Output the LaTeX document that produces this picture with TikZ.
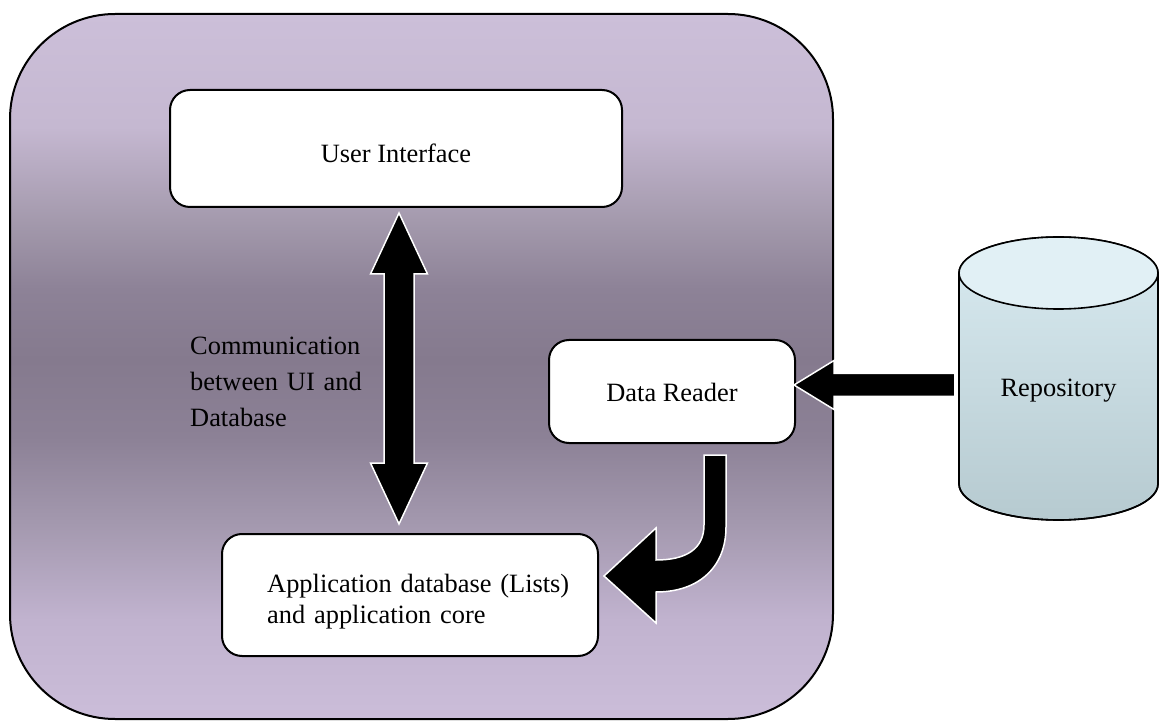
\documentclass[tikz,border=0pt]{standalone}
\usepackage{fontspec}
\setmainfont{Liberation Serif}
\usetikzlibrary{calc}
\definecolor{m0}{HTML}{CCBFD9}
\definecolor{m1}{HTML}{C5B8D1}
\definecolor{m2}{HTML}{A298AB}
\definecolor{m3}{HTML}{8D8297}
\definecolor{m4}{HTML}{857A8E}
\definecolor{m5}{HTML}{8C8196}
\definecolor{m6}{HTML}{A398AE}
\definecolor{m7}{HTML}{C1B3CF}
\definecolor{m8}{HTML}{CBBDD9}
\definecolor{cyltop}{HTML}{E1F0F5}
\definecolor{cylbodytop}{HTML}{D9EBF1}
\definecolor{cylbodybot}{HTML}{B6CAD0}
\pgfdeclareverticalshading{mainshade}{100bp}{color(0bp)=(m8); color(25bp)=(m8); color(32bp)=(m7); color(39bp)=(m6); color(45bp)=(m5); color(50.5bp)=(m4); color(55.5bp)=(m3); color(60bp)=(m2); color(67bp)=(m1); color(75bp)=(m0); color(100bp)=(m0)}
\tikzset{
  panel/.style={draw=black, line width=2pt, rounded corners=105pt, shading=mainshade, inner sep=0pt},
  txt/.style={font=\fontsize{26.4}{31}\selectfont},
  box/.style={txt, draw=black, line width=2pt, fill=white, rounded corners=20pt, inner sep=0pt},
  lbl/.style={font=\fontsize{26.4}{36}\selectfont},
  fatarrow/.style={fill=black, draw=white, line width=1.5pt, line join=miter},
  cyl/.style={draw=black, line width=1.6pt}
}
\begin{document}
\begin{tikzpicture}[x=1pt,y=1pt]
\useasboundingbox (0,0) rectangle (1159,721);
% outer panel
\node[panel, minimum width=823pt, minimum height=705pt] (main) at (421.5,354.5) {};
% boxes
\node[box, minimum width=452pt, minimum height=117pt, text height=29pt, text depth=0pt] (ui) at (396,572.5) {User Interface};
\node[box, minimum width=246pt, minimum height=103pt, text height=21pt, text depth=0pt] (dr) at (672,329.5) {Data Reader};
\node[box, minimum width=376pt, minimum height=122pt] (app) at (410,126) {};
\node[txt, anchor=base west, align=left, text width=320pt, inner sep=0pt] (apptext) at (267,129) {Application database (Lists)\\and application core};
\node[lbl, anchor=base west, align=left, text width=200pt, inner sep=0pt] (comm) at (190,366) {Communication\\between UI and\\Database};
% repository cylinder
\shade[cyl, top color=cylbodytop, bottom color=cylbodybot] (959,448) -- (959,237) arc[start angle=180, end angle=360, x radius=99.5, y radius=36] -- (1158,448) arc[start angle=0, end angle=180, x radius=99.5, y radius=36] -- cycle;
\draw[cyl] (959,448) -- (959,237) arc[start angle=180, end angle=360, x radius=99.5, y radius=36] -- (1158,448);
\draw[cyl, fill=cyltop] (1058.5,448) ellipse[x radius=99.5, y radius=36];
\node[txt, minimum width=199pt, minimum height=283pt, inner sep=0pt, text height=37pt, text depth=0pt] (repo) at (1058.5,342.5) {Repository};
% double arrow UI <-> app
\coordinate (dt) at ($(ui.south)+(3,-5)$);
\coordinate (db) at ($(app.north)+(-11,9)$);
\path[fatarrow] (dt) -- ++(28.5,-61) -- ++(-13.5,0) -- ($(db)+(15,61)$) -- ++(13.5,0) -- (db) -- ++(-28.5,61) -- ++(13.5,0) -- ($(dt)+(-15,-61)$) -- ++(-13.5,0) -- cycle;
% arrow repository -> data reader
\coordinate (ht) at ($(dr.east)+(-2,6.5)$);
\coordinate (hb) at ($(ht -| repo.west)+(-4,0)$);
\path[fatarrow] (ht) -- ++(40,24.5) -- ++(0,-13) -- ($(hb)+(0,11.5)$) -- ($(hb)+(0,-11.5)$) -- ($(ht)+(40,-11.5)$) -- ++(0,-13) -- cycle;
% curved arrow data reader -> app
\coordinate (ct) at ($(dr.south)+(43,-11)$);
\coordinate (ctip) at ($(app.east)+(5,19)$);
\path[fatarrow] ($(ct)+(-11,0)$) -- ($(ct)+(11,0)$) -- ($(ct)+(11,-72)$) .. controls ($(ct)+(11,-112)$) and ($(ctip)+(95,-16)$) .. ($(ctip)+(52,-16)$) -- ($(ctip)+(52,-47)$) -- (ctip) -- ($(ctip)+(52,48)$) -- ($(ctip)+(52,16)$) .. controls ($(ctip)+(82,16)$) and ($(ct)+(-11,-94)$) .. ($(ct)+(-11,-70)$) -- cycle;
\end{tikzpicture}
\end{document}
